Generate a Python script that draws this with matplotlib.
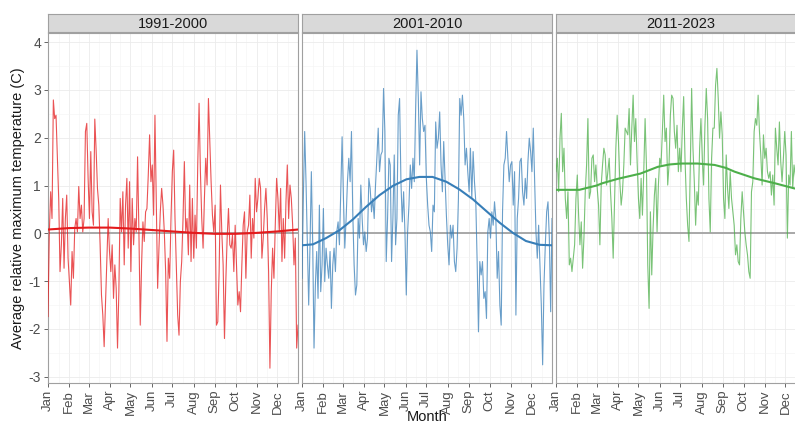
import numpy as np
import matplotlib
matplotlib.use("Agg")
import matplotlib.pyplot as plt

plt.rcParams['font.family'] = ['Liberation Sans', 'DejaVu Sans']

# %% data
periods = ["1991-2000", "2001-2010", "2011-2023"]
colors = ["#E41A1C", "#377EB8", "#4DAF4A"]
month_labels = ["Jan", "Feb", "Mar", "Apr", "May", "Jun",
                "Jul", "Aug", "Sep", "Oct", "Nov", "Dec"]
month_days = [1, 32, 60, 91, 121, 152, 182, 213, 244, 274, 305, 335]

# daily anomalies (sampled roughly every 2 days)
vals_1991 = [
    -1.74, 0.03, 0.87, 0.31, 2.79, 2.40, 2.47, 1.57, 0.73, -0.80, -0.24, 0.73,
    -0.73, 0.31, 0.80, -0.52, -1.01, -1.50, -0.38, -0.94, 0.10, 0.31, 0.03,
    0.98, 0.31, 0.59, 0.03, 0.31, 2.13, 2.30, 1.15, 0.31, 1.71, 0.45, 0.17,
    2.39, 1.74, 0.94, 0.59, -0.24, -1.29, -1.71, -2.37, -1.50, -0.66, 0.31,
    -0.38, -0.80, -0.24, -1.36, -0.66, -1.15, -2.40, -1.22, 0.73, 0.03, 0.87,
    -0.66, 0.59, 1.15, -0.31,
    1.08, -0.80, 0.73, -0.24, 0.31, 0.03, 1.60, 0.03, -1.92, -0.66, 0.24,
    -0.17, 0.45, 0.52, 1.22, 2.06, 1.08, 1.43, 0.38, 2.47, 0.73, -1.15, -0.31,
    0.45, 0.94, 0.59, 0.03, -0.80, -2.26, -0.52, -0.94, 0.31, 1.29, 1.74, 0.31,
    -0.66, -1.71, -2.13, -1.01, -0.59, 0.31, 1.50, 0.03, 0.31, -0.45, 1.01,
    -0.59, 0.73, -0.52, 0.38, -0.31, 1.43, 2.72, 1.29, 0.31, -0.31, 0.73, 1.57,
    1.01, 2.82, 1.92, 1.08, 0.38, 0.03, 0.59, -1.92,
    -1.85, -0.80, 1.01, 0.03, -0.66, -2.20, -1.01, -0.10, 0.52, -0.24, -0.31,
    -0.03, -0.80, 0.17, -0.66, -1.50, -1.22, -1.64, -0.66, 0.17, 0.45, -0.94,
    0.03, 0.17, 0.80, -0.52, 0.31, -0.10, 1.15, 0.45, 0.73, 1.15, 0.94, -0.52,
    -0.10, 0.52, 0.94, 0.31, -0.80, -2.82, -1.22, -0.31, -0.94, 0.17, 1.15,
    0.73, 0.03, 0.94, -0.59, 0.31, -0.52, 0.66, 1.43, 0.31, 1.01, 0.73, 0.17,
    -0.66, -0.10, -2.40, -1.92,
]
vals_2001 = [
    -0.94, 0.73, 2.13, 1.08, -0.24, -1.50, -0.24, 1.29, -0.24, -2.40, -1.08,
    -0.38, -1.36, 0.59, -1.22, -0.66, 0.52, -1.01, -0.31, -0.66, -0.94, -0.38,
    -1.57, -0.66, -0.31, -0.80, 0.03, 0.24, -0.24, 0.87, 2.02, 0.73, -0.31,
    0.31, 1.08, 1.57, 1.08, 2.13, 0.38, -0.66, -1.29, -1.08, 0.31, -0.10, 1.01,
    0.31, -0.24, 0.03, -0.38, -0.10, 1.15, 0.94, 0.45, 0.73, 0.31, 1.01, 1.57,
    2.20, 1.29, 1.64, 1.71, 3.03, 2.13, -0.59,
    0.31, 1.57, 1.43, -0.59, 0.31, 1.64, -0.24, 0.31, 2.47, 2.82, 1.08, 0.24,
    0.87, 0.03, -1.29, 0.03, 0.59, 1.43, 0.94, 1.57, 1.08, 2.61, 3.83, 2.82,
    1.43, 2.96, 2.40, 2.13, 2.26, 1.15, 0.59, 0.17, 0.03, -0.38, 0.59, 0.45,
    2.33, 1.78, 1.99, 2.54, 1.43, 0.87, 1.92, 1.15, 0.38, -0.24, -0.66, 0.17,
    -0.10, 0.17, -0.59, -0.80, -0.31, 0.73, 2.82, 2.47, 2.89, 2.40, 1.43, 1.78,
    1.29, 0.87, 1.78, 0.73,
    1.71, 1.08, 0.66, -0.59, -2.06, -0.59, -0.87, -0.59, -1.36, -1.22, -1.78,
    0.03, 0.31, -0.10, 0.45, 0.17, 0.66, 0.31, -0.94, -0.38, -1.50, -1.92,
    0.45, 1.43, 1.57, 2.13, 1.57, 1.08, 1.43, 1.50, 0.59, 1.29, -1.71, 0.31,
    0.73, 1.50, 1.57, 0.87, 0.59, 1.15, 0.73, 1.50, 1.99, 1.71, 1.29, 2.20,
    1.08, 0.03, -0.52, 0.17, -0.66, -1.50, -2.75, -1.08, -0.24, 0.45, 0.66,
    -0.10, -1.64, 0.31,
]
vals_2011 = [
    1.29, 1.57, 0.87, 1.99, 2.51, 1.29, 1.78, 0.73, 0.31, 0.87, -0.66, -0.52,
    -0.80, -0.52, -0.24, 0.73, 1.22, 0.38, -0.24, 0.24, -0.73, -0.10, 0.87,
    1.43, 2.40, 0.73, 0.87, 1.57, 1.64, 1.08, 1.43, 0.94, 0.59, -0.24, 1.01,
    1.43, 1.78, 1.64, 1.01, 1.29, 1.57, 0.87, 0.31, -0.52, 0.59, 1.78, 2.47,
    1.92, 1.08, 0.59, 0.87, 1.43, 2.20, 2.13, 2.06, 2.61, 1.43, 2.20, 2.89,
    1.92, 2.40, 1.50, 0.73, 0.31,
    1.15, 0.38, 1.29, 2.40, 1.43, -0.66, -1.57, 0.45, -0.87, 0.10, 0.80, 1.15,
    0.03, 1.01, 1.57, 1.43, 2.13, 2.89, 1.92, 2.20, 1.01, 1.43, 2.47, 2.89,
    2.82, 2.13, 1.78, 2.26, 1.29, 1.78, 1.29, 2.20, 2.86, 1.57, 0.73, 0.17,
    -0.17, 1.43, 3.03, 1.78, 1.08, 0.17, 0.87, 0.59, 1.78, 2.40, 1.57, 1.01,
    2.26, 3.03, 2.40, 0.73, 0.03, 1.57, 2.20, 2.20, 3.10, 3.45, 2.82, 1.99,
    2.54, 2.06, 0.73, 0.31,
    1.64, 0.94, 0.52, 1.29, 0.73, 0.45, 0.17, -0.45, -0.24, -0.59, -0.66, 0.31,
    0.87, 0.45, 0.03, -0.24, -0.45, -0.80, -0.94, 0.87, 1.08, 2.13, 2.40, 2.26,
    2.89, 2.13, 1.64, 1.01, 2.06, 1.57, 1.78, 1.29, 1.15, 1.29, 0.80, 1.22,
    0.59, 2.20, 1.78, 1.43, 2.33, 1.50, 1.08, 1.57, 2.13, 1.64, -0.10, 1.22,
    1.01, 2.13, 0.94, 1.43,
    1.20, 0.90, 1.30, 1.00, 0.70, 1.10, 0.90, 1.20, 0.80,
]

# smoothed trends (day of year, value)
smooth_days_1991 = [1, 32, 60, 91, 121, 152, 182, 213, 244, 274, 305, 335, 365]
smooth_1991 = [0.08, 0.11, 0.12, 0.12, 0.10, 0.07, 0.04, 0.01, -0.01, -0.01, 0.01, 0.04, 0.08]

smooth_days_2001 = [1, 17, 36, 56, 75, 94, 114, 133, 153, 172, 191, 211,
                    230, 250, 269, 289, 308, 327, 347, 365]
smooth_2001 = [-0.25, -0.23, -0.10, 0.07, 0.29, 0.55, 0.80, 0.99, 1.13, 1.18,
               1.18, 1.08, 0.92, 0.71, 0.47, 0.22, 0.01, -0.16, -0.24, -0.25]

smooth_days_2011 = [1, 35, 60, 69, 91, 124, 149, 166, 183, 207, 232, 248,
                    261, 290, 319, 348, 365]
smooth_2011 = [0.91, 0.91, 1.00, 1.05, 1.14, 1.25, 1.39, 1.44, 1.46, 1.46,
               1.43, 1.37, 1.29, 1.15, 1.05, 0.94, 0.90]

series = [vals_1991, vals_2001, vals_2011]
smooths = [(smooth_days_1991, smooth_1991),
           (smooth_days_2001, smooth_2001),
           (smooth_days_2011, smooth_2011)]

# %% figure
W, H = 795, 425
fig = plt.figure(figsize=(W / 100, H / 100), dpi=100)

panel_left = [48, 302, 556]
panel_w = 250
top, bottom = 33, 383
strip_top = 14

minor_x = [(a + b) / 2 for a, b in zip(month_days, month_days[1:] + [366])]

for i in range(3):
    x0 = panel_left[i]
    ax = fig.add_axes([x0 / W, (H - bottom) / H, panel_w / W, (bottom - top) / H])
    days = np.linspace(1, 365, len(series[i]))

    ax.axhline(0, color="#A8A8A8", lw=1.4, zorder=2)
    ax.plot(days, series[i], color=colors[i], lw=0.8, alpha=0.75, zorder=3)
    ax.plot(smooths[i][0], smooths[i][1], color=colors[i], lw=1.5, zorder=4,
            solid_joinstyle="round")

    ax.set_xlim(1, 365)
    ax.set_ylim(-3.13, 4.19)
    ax.set_xticks(month_days)
    ax.set_xticks(minor_x, minor=True)
    ax.set_yticks(range(-3, 5))
    ax.set_yticks(np.arange(-2.5, 4.1, 1.0), minor=True)
    ax.set_xticklabels(month_labels, rotation=90, fontsize=9.5, color="#4D4D4D")
    ax.grid(which="major", color="#EBEBEB", lw=0.6, zorder=0)
    ax.grid(which="minor", color="#F4F4F4", lw=0.4, zorder=0)
    ax.set_axisbelow(True)
    ax.tick_params(which="minor", length=0)
    ax.tick_params(which="major", length=3, width=0.6, color="#4D4D4D", pad=2)
    if i == 0:
        ax.set_yticklabels([str(v) for v in range(-3, 5)], fontsize=10, color="#4D4D4D")
    else:
        ax.tick_params(axis="y", length=0, labelleft=False)
    for s in ax.spines.values():
        s.set_color("#A0A0A0")
        s.set_linewidth(0.8)

    # facet strip
    sax = fig.add_axes([x0 / W, (H - top + 1) / H, panel_w / W, (top - 1 - strip_top) / H])
    sax.set_facecolor("#D9D9D9")
    sax.set_xticks([])
    sax.set_yticks([])
    for s in sax.spines.values():
        s.set_color("#A0A0A0")
        s.set_linewidth(0.8)
    sax.text(0.5, 0.45, periods[i], transform=sax.transAxes, ha="center",
             va="center", fontsize=10.5, color="#1A1A1A")

fig.text(18 / W, 1 - 208 / H, "Average relative maximum temperature (C)",
         rotation=90, ha="center", va="center", fontsize=10.5, color="#1A1A1A")
fig.text(427 / W, 1 - 417 / H, "Month", ha="center", va="center",
         fontsize=10.5, color="#1A1A1A")

plt.savefig("out.png", dpi=100)
